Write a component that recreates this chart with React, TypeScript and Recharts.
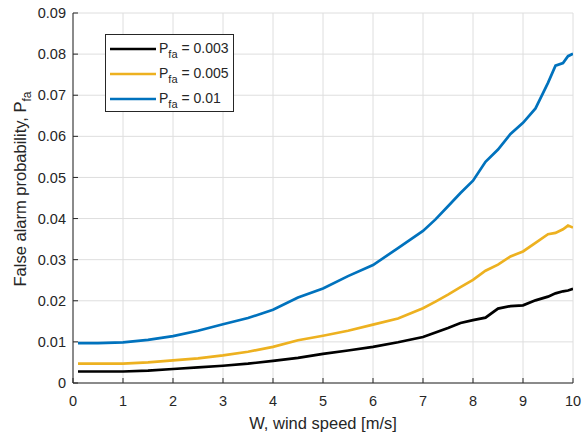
import React from 'react';
import { LineChart, Line, XAxis, YAxis, CartesianGrid, Legend } from 'recharts';

const windSpeed = [0.1, 0.5, 1, 1.5, 2, 2.5, 3, 3.5, 4, 4.5, 5, 5.5, 6, 6.5, 7, 7.25, 7.5, 7.75, 8, 8.25, 8.5, 8.75, 9, 9.25, 9.5, 9.65, 9.8, 9.9, 10];
const pfa0003 = [0.0028, 0.0028, 0.0028, 0.0030, 0.0034, 0.0038, 0.0042, 0.0047, 0.0054, 0.0061, 0.0071, 0.0079, 0.0088, 0.0099, 0.0112, 0.0123, 0.0134, 0.0146, 0.0153, 0.0159, 0.0181, 0.0187, 0.0189, 0.0201, 0.0210, 0.0218, 0.0223, 0.0225, 0.0229];
const pfa0005 = [0.0047, 0.0047, 0.0047, 0.0050, 0.0055, 0.0060, 0.0067, 0.0076, 0.0088, 0.0104, 0.0115, 0.0127, 0.0142, 0.0157, 0.0182, 0.0198, 0.0215, 0.0233, 0.0251, 0.0273, 0.0288, 0.0308, 0.0320, 0.0341, 0.0362, 0.0365, 0.0374, 0.0383, 0.0378];
const pfa001 = [0.0097, 0.0097, 0.0099, 0.0105, 0.0114, 0.0127, 0.0143, 0.0158, 0.0178, 0.0208, 0.0230, 0.0260, 0.0287, 0.0328, 0.0370, 0.0398, 0.0430, 0.0462, 0.0492, 0.0538, 0.0568, 0.0606, 0.0633, 0.0668, 0.0730, 0.0772, 0.0778, 0.0795, 0.0801];

const xTicks = [0, 1, 2, 3, 4, 5, 6, 7, 8, 9, 10];
const yTicks = [0, 0.01, 0.02, 0.03, 0.04, 0.05, 0.06, 0.07, 0.08, 0.09];
const yTickLabels = ['0', '0.01', '0.02', '0.03', '0.04', '0.05', '0.06', '0.07', '0.08', '0.09'];

const seriesKeys = ['p003', 'p005', 'p01'];
const seriesNames = ['0.003', '0.005', '0.01'];
const seriesColors = ['#000000', '#EDB120', '#0072BD'];

const data = windSpeed.map((w, i) => ({ w, p003: pfa0003[i], p005: pfa0005[i], p01: pfa001[i] }));

const FONT = '"Liberation Sans", Arial, Helvetica, sans-serif';
const AX = '#262626';

const fmtY = (v: number) => {
  const idx = yTicks.findIndex((t) => Math.abs(t - v) < 1e-9);
  return idx >= 0 ? yTickLabels[idx] : String(v);
};

const EmptyTick = () => <g />;

const YLabel = (props: any) => {
  const vb = props.viewBox || {};
  const cy = vb.y + vb.height / 2 - 9;
  const cx = 26;
  return (
    <text x={cx} y={cy} transform={`rotate(-90, ${cx}, ${cy})`} textAnchor="middle" fill={AX} fontFamily={FONT} fontSize={16.5}>
      False alarm probability, P<tspan dy={5} fontSize={12}>fa</tspan>
    </text>
  );
};

const XLabel = (props: any) => {
  const vb = props.viewBox || {};
  const cx = vb.x + vb.width / 2;
  return (
    <text x={cx} y={429} textAnchor="middle" fill={AX} fontFamily={FONT} fontSize={16.5}>
      W, wind speed [m/s]
    </text>
  );
};

const renderLegend = () => (
  <div
    style={{
      border: `1px solid ${AX}`,
      background: '#fff',
      width: 129,
      height: 78,
      boxSizing: 'border-box',
      fontFamily: FONT,
      fontSize: 14,
      color: AX,
      paddingTop: 1,
    }}
  >
    {seriesNames.map((name, i) => (
      <div key={name} style={{ display: 'flex', alignItems: 'center', height: 25, lineHeight: '16px' }}>
        <svg width={51} height={10} style={{ display: 'block' }}>
          <line x1={4} x2={50} y1={5} y2={5} stroke={seriesColors[i]} strokeWidth={2.7} />
        </svg>
        <span style={{ marginLeft: 2, whiteSpace: 'nowrap' }}>
          P<span style={{ fontSize: 11, position: 'relative', top: 5 }}>fa</span> = {name}
        </span>
      </div>
    ))}
  </div>
);

export default function App() {
  return (
    <div style={{ position: 'absolute', left: 0, top: 0, background: '#fff' }}>
      <LineChart width={583} height={434} data={data} margin={{ top: 13, right: 10, bottom: 21, left: 13 }}>
        <CartesianGrid stroke="#dedede" strokeWidth={1} />
        <XAxis
          dataKey="w"
          type="number"
          domain={[0, 10]}
          ticks={xTicks}
          height={30}
          stroke={AX}
          tickSize={-5}
          tickMargin={18}
          tick={{ fill: AX, fontSize: 14.5, fontFamily: FONT }}
          label={<XLabel />}
          allowDataOverflow
        />
        <XAxis
          xAxisId="top"
          orientation="top"
          dataKey="w"
          type="number"
          domain={[0, 10]}
          ticks={xTicks}
          height={0}
          stroke={AX}
          mirror
          tickSize={5}
          tick={<EmptyTick />}
        />
        <YAxis
          type="number"
          domain={[0, 0.09]}
          ticks={yTicks}
          width={60}
          stroke={AX}
          tickSize={-5}
          tickMargin={12}
          tickFormatter={fmtY}
          tick={{ fill: AX, fontSize: 14.5, fontFamily: FONT }}
          label={<YLabel />}
          allowDataOverflow
        />
        <YAxis
          yAxisId="right"
          orientation="right"
          type="number"
          domain={[0, 0.09]}
          ticks={yTicks}
          width={0}
          stroke={AX}
          mirror
          tickSize={5}
          tick={<EmptyTick />}
        />
        <Legend
          layout="horizontal"
          verticalAlign="middle"
          align="center"
          content={renderLegend}
          wrapperStyle={{ position: 'absolute', left: 105, top: 34, width: 129, height: 78 }}
        />
        {seriesKeys.map((k, i) => (
          <Line
            key={k}
            dataKey={k}
            name={seriesNames[i]}
            type="linear"
            stroke={seriesColors[i]}
            strokeWidth={2.7}
            dot={false}
            isAnimationActive={false}
          />
        ))}
      </LineChart>
    </div>
  );
}
